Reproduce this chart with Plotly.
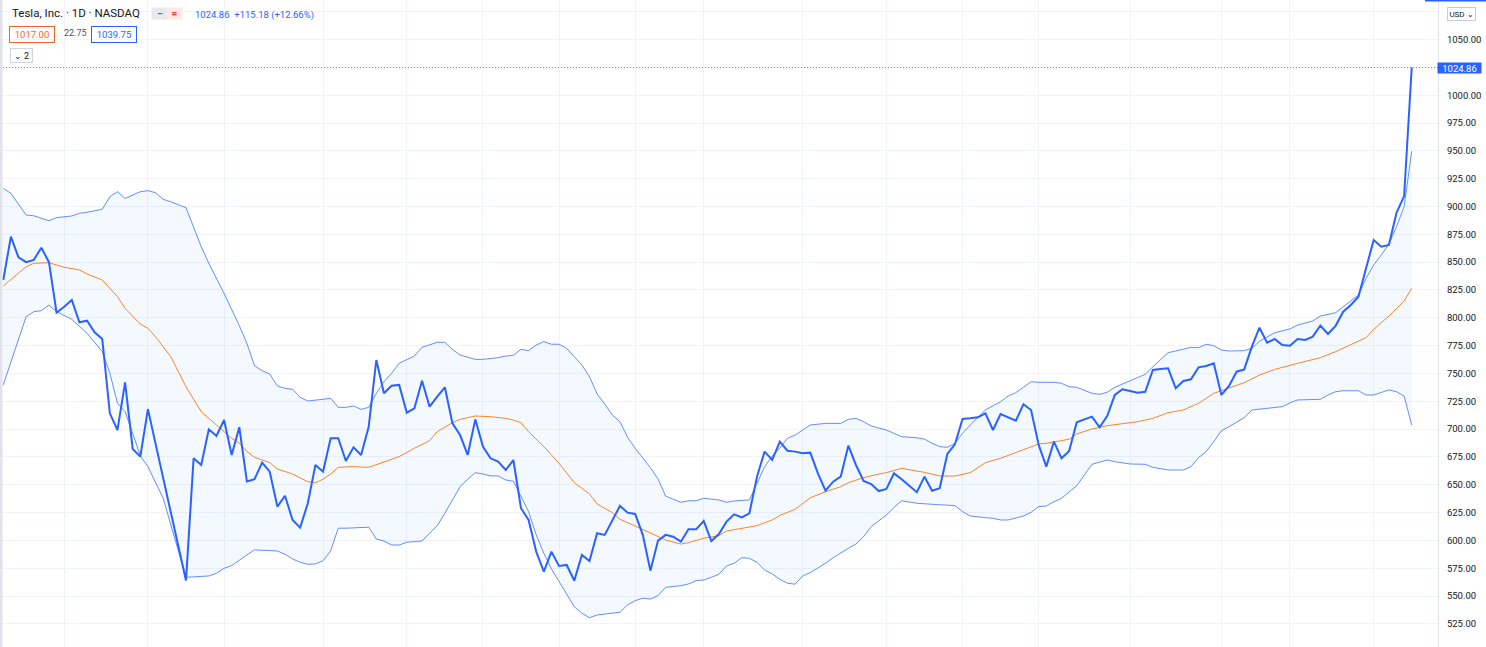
import plotly.graph_objects as go

# ---------------- data ----------------
price = [834, 872.9, 854.3, 850, 852, 863, 850, 804.6, 810, 816,
         796, 797.4, 787, 781, 714.2, 699.2, 742, 682.2, 675.3, 718,
         687, 656, 624, 594, 564, 673.8, 667.8, 699.9, 693.9, 708.2,
         676.8, 701.7, 653, 655, 669.9, 661.8, 630.4, 640.2, 618.4, 611.5,
         633.4, 667.8, 661.8, 691.8, 691.8, 671.4, 683.7, 676.8, 702.2, 762.1,
         732.2, 739, 739.7, 714.8, 718.7, 743.5, 720.2, 729.2, 737.6, 705.3,
         694.7, 676.8, 708.8, 684.3, 673.8, 670.8, 663.3, 672.3, 629, 618.4,
         590, 572, 590, 577.1, 578, 563.9, 587, 581.6, 606.5, 605,
         618.4, 631, 625, 623.8, 605, 572.9, 599.9, 605, 603.4, 598.9,
         610, 610, 617.5, 599.5, 605.8, 616.9, 623.5, 620.8, 624.4, 657.3,
         679.8, 672.3, 688.8, 680.6, 679.8, 678.3, 678.9, 660.3, 644.7, 652.8,
         657.3, 685.1, 667.8, 653.5, 650.7, 644.4, 646.3, 660.3, 655, 649.2,
         643.3, 657.3, 644.7, 646.9, 677.7, 686.4, 709.1, 709.7, 710.6, 714.2,
         699.2, 713.6, 710.6, 707.6, 722.3, 717.2, 685.8, 666.3, 688.8, 673.8,
         680.4, 706.2, 708.8, 711.2, 701.7, 711.8, 730.7, 735.8, 734.3, 732.8,
         733.6, 753.1, 754, 754.6, 736.7, 743.3, 744.8, 755.5, 756.7, 759.1,
         730.7, 738.8, 751.6, 753.7, 774.1, 791.1, 777.6, 781, 775.6, 775,
         781, 780.1, 783.1, 793.1, 785.5, 792.8, 805.5, 811.5, 819, 844.5,
         869.9, 863.9, 865.4, 894.4, 909.4, 1024.86]
bar_idx = list(range(len(price)))

upper_x = [0, 1, 3, 4, 6, 7, 9, 10, 11, 13, 14, 15, 16, 17, 18, 19, 20, 21, 22, 24,
           26, 27, 29, 31, 32, 33, 34, 35, 36, 37, 38, 39, 40, 42, 43, 44, 45, 46, 47, 48,
           49, 50, 51, 52, 54, 55, 56, 57, 58, 59, 60, 61, 62, 63, 65, 66, 67, 68, 69, 70,
           71, 72, 73, 74, 76, 77, 78, 79, 80, 81, 82, 83, 84, 85, 86, 87, 88, 89, 90, 91,
           92, 94, 95, 96, 98, 99, 100, 101, 102, 103, 104, 106, 108, 110, 111, 112, 113, 114, 116, 118,
           120, 121, 122, 123, 124, 125, 126, 127, 129, 131, 132, 133, 134, 135, 136, 138, 139, 140, 141, 143,
           144, 145, 146, 148, 150, 151, 152, 153, 154, 155, 156, 157, 158, 159, 160, 161, 163, 164, 165, 167,
           169, 170, 172, 173, 175, 176, 177, 178, 179, 180, 181, 182, 183, 184, 185]
upper_y = [916.3, 911.8, 892.4, 891.7, 887.2, 890, 891.5, 893.9, 894.8, 897.5, 908.8, 913.3, 907.3, 910.3, 913.3, 914.2, 912.4, 906.5, 904.3, 898.9,
           863.9, 849, 822, 793, 777.1, 757, 752.5, 749.5, 738.8, 736.7, 735.8, 728.6, 725.3, 726.8, 727.7, 719.6, 719.6, 720.8, 717.8, 719.6,
           732.2, 742.6, 750.2, 759.2, 765.7, 773.5, 775.6, 778, 778, 771.7, 766.6, 764.5, 762.7, 762.7, 764.2, 765.7, 766.3, 771.7, 770.5, 775.6,
           778.6, 776.3, 776.3, 772.6, 757.6, 747.1, 731.6, 722.6, 712.7, 706.7, 692.7, 682.8, 673.8, 665.4, 655.2, 639.9, 637, 634.3, 635.7, 635.7,
           637.9, 636.4, 634.3, 635.5, 636.4, 651.4, 666.3, 675.9, 683, 691.8, 694.7, 703.7, 705.2, 705.2, 708.8, 709.7, 706.7, 702.8, 699.2, 693.2,
           692.3, 691.1, 687.3, 684.3, 683.7, 687.3, 696.3, 703.7, 717.2, 724.7, 729.8, 732.8, 738.1, 742.6, 742.1, 742.1, 741.2, 738.1, 737.6, 732.2,
           731.3, 733.1, 737.6, 743.3, 749.3, 756.1, 762.7, 768.7, 770.2, 772, 773.5, 773.2, 776.2, 775, 771.1, 770.2, 770.5, 772.6, 778.9, 786.6,
           790, 793.5, 797.2, 801.6, 804.6, 810, 815.1, 820.5, 835.5, 847.5, 856.4, 866.3, 881.9, 899.9, 949.8]

lower_x = [0, 1, 3, 4, 5, 6, 7, 9, 11, 13, 14, 15, 16, 17, 18, 19, 21, 24, 27, 28,
           29, 30, 31, 32, 33, 35, 36, 37, 38, 39, 40, 41, 42, 43, 44, 45, 48, 49, 50, 51,
           52, 53, 55, 56, 57, 58, 59, 60, 61, 62, 63, 64, 65, 66, 67, 68, 69, 70, 71, 72,
           73, 74, 75, 76, 77, 78, 79, 81, 82, 83, 84, 85, 86, 87, 89, 90, 91, 92, 93, 94,
           95, 96, 97, 98, 99, 100, 101, 102, 103, 104, 105, 106, 108, 109, 111, 112, 113, 114, 116, 117,
           118, 119, 120, 122, 124, 125, 126, 127, 129, 130, 131, 132, 134, 135, 136, 137, 138, 139, 141, 142,
           143, 145, 146, 148, 150, 151, 153, 155, 156, 157, 158, 159, 160, 161, 163, 164, 166, 168, 169, 170,
           173, 174, 175, 176, 178, 179, 180, 181, 182, 183, 184, 185]
lower_y = [739.7, 760.6, 801, 805.5, 806.4, 811.5, 805.5, 798.7, 786.1, 769.6, 750.2, 723.2, 715.7, 696.3, 675.9, 666.3, 637.9, 566.9, 568.1, 570.5,
           575, 577.4, 582.5, 587, 591.5, 590.6, 590.6, 587.6, 583.4, 580.4, 578.6, 578.9, 581.8, 590.6, 611, 611, 611.9, 601.3, 599.5, 595.9,
           595.9, 598.4, 599.5, 606.5, 613.3, 624.4, 636.4, 648.3, 655, 660.9, 659.7, 658, 658, 654.3, 653.2, 639.3, 625.9, 605, 588.5, 574.4,
           563, 552.6, 540.5, 534.6, 530.6, 533.1, 533.7, 535.5, 542.1, 545.9, 548.1, 547.4, 550.4, 557.9, 559.4, 560.9, 563.9, 564.5, 566.9, 569.6,
           577.1, 579.5, 584.5, 584, 580.4, 573.5, 569.9, 565.1, 561.6, 560.7, 568.1, 571.1, 579.5, 584.5, 593, 596.8, 603.4, 612.4, 622.9, 629.8,
           635.7, 634.8, 633.4, 632.5, 631.8, 631.3, 625.9, 622, 620.5, 619.9, 618.4, 618.4, 622, 625.3, 630.4, 631, 634.8, 637.9, 649.2, 658.8,
           668.4, 672.3, 670.8, 668.7, 668.4, 665.7, 663.3, 663.3, 666.3, 674.4, 679.8, 688.8, 698.6, 702.2, 710.3, 717.2, 718.7, 720.2, 723.5, 726.2,
           726.8, 730.7, 733.6, 734.5, 734.5, 730.7, 730.7, 733.1, 735.2, 733.6, 729.8, 703.7]

basis_x = [0, 3, 4, 6, 8, 10, 11, 13, 15, 16, 18, 19, 20, 22, 24, 26, 28, 30, 31, 32,
           33, 35, 36, 38, 40, 41, 42, 43, 44, 46, 48, 50, 52, 54, 56, 57, 59, 60, 62, 64,
           66, 67, 68, 69, 71, 73, 75, 77, 78, 80, 81, 83, 85, 87, 89, 90, 92, 94, 95, 97,
           99, 101, 102, 104, 106, 108, 110, 111, 113, 115, 116, 118, 120, 121, 123, 125, 127, 129, 131, 133,
           135, 136, 137, 139, 140, 141, 143, 145, 147, 149, 151, 153, 155, 157, 159, 161, 163, 165, 167, 170,
           172, 173, 175, 177, 179, 180, 182, 184, 185]
basis_y = [828.6, 845.9, 849, 849.5, 845.4, 843, 839.4, 834, 819, 808.5, 794.4, 790.6, 783, 765.1, 738.1, 715.7, 703.7, 691.8, 687.3, 680,
           674.7, 669.9, 664.2, 659.7, 652.8, 651.9, 655, 659.7, 665.7, 666.3, 665.7, 670.8, 675.3, 682.8, 689.6, 697.7, 705.8, 708.8, 711.8, 711.2,
           709.7, 708.2, 705.8, 697.7, 684.3, 669.3, 651.9, 641.8, 632.8, 625, 619, 613, 606.5, 600.4, 596.8, 598, 602, 604.3, 608.5, 611,
           613.3, 618.4, 622.5, 628, 638.4, 643.8, 648.3, 651.9, 656.4, 659.7, 660.9, 664.8, 662.4, 661.2, 657.9, 657.9, 660.9, 669.9, 673.8, 678.9,
           684.3, 686.7, 687.3, 689.4, 690.9, 695.7, 700.1, 703.1, 704.6, 706.7, 709.7, 714.8, 717.2, 723.2, 732.2, 736.7, 741.7, 748.6, 753.7, 759.1,
           762.1, 764.2, 769.6, 775.6, 782.2, 789.7, 801.6, 815.1, 826.5]

grid_idx = [8, 19, 29, 42, 53, 63, 73, 83, 92, 105, 116, 126, 136, 148, 160, 169, 180]
y_ticks = [500, 525, 550, 575, 600, 625, 650, 675, 700, 725, 750, 775, 800, 825, 850,
           875, 900, 925, 950, 975, 1000, 1025, 1050, 1075]
y_labels = ["" if v in (500, 1025, 1075) else f"{v:.2f}" for v in y_ticks]

last_price = price[-1]
title_text = "Tesla, Inc. · 1D · NASDAQ"
change_text = "1024.86&nbsp;&nbsp;+115.18 (+12.66%)"
legend_vals = ["1017.00", "22.75", "1039.75"]

# ---------------- figure ----------------
W, H = 1486, 647
R = 48
PW = W - R
BLUE = "#2962FF"
FONT = "Roboto"


def px(x):
    return x / PW


def py(y):
    return 1 - y / H


fig = go.Figure()
fig.add_trace(go.Scatter(x=upper_x, y=upper_y, mode="lines",
                         line=dict(color="rgba(41,98,255,0.72)", width=1), hoverinfo="skip"))
fig.add_trace(go.Scatter(x=lower_x, y=lower_y, mode="lines", fill="tonexty",
                         fillcolor="rgba(33,150,243,0.055)",
                         line=dict(color="rgba(41,98,255,0.72)", width=1), hoverinfo="skip"))
fig.add_trace(go.Scatter(x=basis_x, y=basis_y, mode="lines",
                         line=dict(color="#FF6D00", width=1), opacity=0.85, hoverinfo="skip"))
fig.add_trace(go.Scatter(x=bar_idx, y=price, mode="lines",
                         line=dict(color=BLUE, width=2), hoverinfo="skip"))

fig.update_layout(
    width=W, height=H,
    margin=dict(l=0, r=R, t=0, b=0),
    paper_bgcolor="white", plot_bgcolor="white",
    showlegend=False,
    font=dict(family=FONT, color="#131722"),
    xaxis=dict(range=[-0.43, 188.45], tickvals=grid_idx, showticklabels=False,
               showgrid=True, gridcolor="#f0f3fa", gridwidth=1, zeroline=False,
               ticks="", showline=False, fixedrange=True),
    yaxis=dict(range=[504.3, 1085.5], side="right", tickvals=y_ticks, ticktext=y_labels,
               showgrid=True, gridcolor="#f0f3fa", gridwidth=1, zeroline=False,
               ticks="", showline=True, linecolor="#e0e3eb", linewidth=1,
               tickfont=dict(family=FONT, size=9.5, color="#131722"),
               ticklabelstandoff=6, fixedrange=True),
)

# dotted last-price line
fig.add_shape(type="line", xref="paper", x0=0, x1=1, yref="y", y0=last_price, y1=last_price,
              line=dict(color="#5b86ff", width=1, dash="1px,2px"))
# left edge strip
fig.add_shape(type="rect", xref="paper", x0=0, x1=px(2.5), yref="paper", y0=0, y1=1,
              fillcolor="#e0e3eb", line=dict(width=0), layer="above")
# small blue bar at top right
fig.add_shape(type="rect", xref="paper", x0=px(1425), x1=px(1486), yref="paper", y0=py(1.5), y1=1,
              fillcolor=BLUE, line=dict(width=0))

ann = []
# last price label on axis
ann.append(dict(xref="paper", x=px(1437), xanchor="left", yref="y", y=last_price, yanchor="middle",
                text=f"{last_price:.2f}", showarrow=False, bgcolor=BLUE, width=42, height=9,
                borderpad=0.5, font=dict(family=FONT, size=9.5, color="white")))
# USD button
ann.append(dict(xref="paper", x=px(1461), xanchor="center", yref="paper", y=py(14), yanchor="middle",
                text="USD ⌄", showarrow=False, bordercolor="#c9ccd4", borderwidth=1, borderpad=1,
                width=25, height=10, bgcolor="white", font=dict(family=FONT, size=8, color="#131722")))
# legend line 1
ann.append(dict(xref="paper", x=px(10), xanchor="left", yref="paper", y=py(13.5), yanchor="middle",
                text=title_text, showarrow=False, font=dict(family=FONT, size=11.5, color="#131722")))
ann.append(dict(xref="paper", x=px(159), xanchor="center", yref="paper", y=py(13.5), yanchor="middle",
                text="━", showarrow=False, bgcolor="#e9eaee", width=14, height=10, borderpad=0.5,
                font=dict(family=FONT, size=7, color="#6a6d78")))
ann.append(dict(xref="paper", x=px(174), xanchor="center", yref="paper", y=py(13.5), yanchor="middle",
                text="<b>=</b>", showarrow=False, bgcolor="#fde8e3", width=14, height=10, borderpad=0.5,
                font=dict(family=FONT, size=10, color="#f23645")))
ann.append(dict(xref="paper", x=px(193), xanchor="left", yref="paper", y=py(15), yanchor="middle",
                text=change_text, showarrow=False, font=dict(family=FONT, size=9.5, color=BLUE)))
# legend line 2
ann.append(dict(xref="paper", x=px(32), xanchor="center", yref="paper", y=py(34.3), yanchor="middle",
                text=legend_vals[0], showarrow=False, bordercolor="#f0642c", borderwidth=1, borderpad=1,
                width=42, height=12.5, font=dict(family=FONT, size=9.5, color="#f0642c")))
ann.append(dict(xref="paper", x=px(62), xanchor="left", yref="paper", y=py(33.5), yanchor="middle",
                text=legend_vals[1], showarrow=False, font=dict(family=FONT, size=9, color="#50535e")))
ann.append(dict(xref="paper", x=px(113.7), xanchor="center", yref="paper", y=py(34.3), yanchor="middle",
                text=legend_vals[2], showarrow=False, bordercolor=BLUE, borderwidth=1, borderpad=1,
                width=42, height=12.5, font=dict(family=FONT, size=9.5, color=BLUE)))
# legend line 3
ann.append(dict(xref="paper", x=px(21.5), xanchor="center", yref="paper", y=py(55.5), yanchor="middle",
                text="⌄ 2", showarrow=False, bordercolor="#d1d4dc", borderwidth=1, borderpad=1,
                width=19, height=11, font=dict(family=FONT, size=9, color="#131722")))
fig.update_layout(annotations=ann)

fig.write_html("out.html", config={"displayModeBar": False, "staticPlot": True},
               post_script="document.body.style.margin='0';document.body.style.overflow='hidden';")
